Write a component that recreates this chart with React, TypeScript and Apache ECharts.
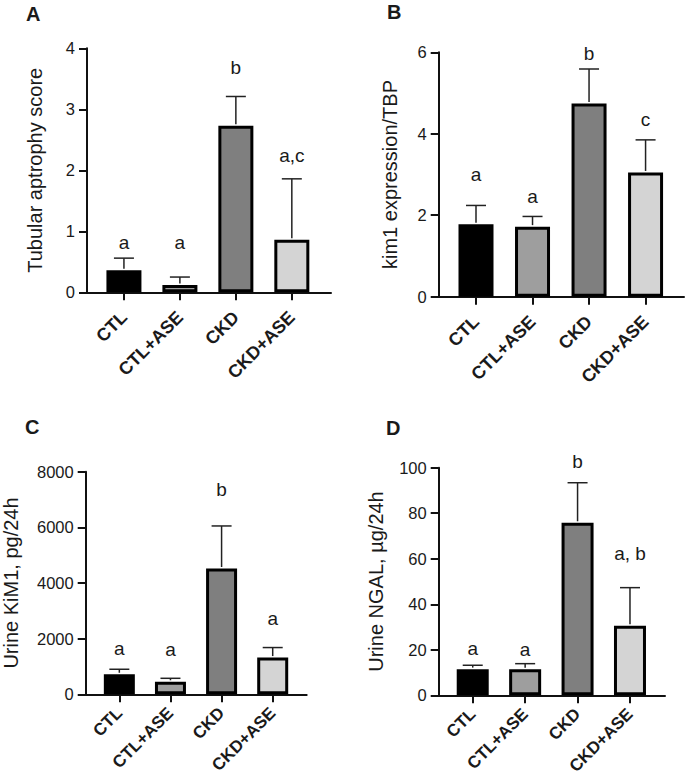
import React, { useEffect, useRef } from "react";
import * as echarts from "echarts";

const categories = ["CTL", "CTL+ASE", "CKD", "CKD+ASE"];
const barColors = ["#000000", "#9e9e9e", "#7f7f7f", "#d4d4d4"];

// Panel A
const tubularMean = [0.36, 0.12, 2.73, 0.86];
const tubularSem = [0.2, 0.13, 0.48, 1.0];
const tubularLetters = ["a", "a", "b", "a,c"];
const tubularLetterY = [0.82, 0.82, 3.69, 2.24];

// Panel B
const kim1Mean = [1.78, 1.72, 4.74, 3.05];
const kim1Sem = [0.46, 0.25, 0.85, 0.8];
const kim1Letters = ["a", "a", "b", "c"];
const kim1LetterY = [3.0, 2.47, 5.97, 4.35];

// Panel C
const urineKimMean = [720, 450, 4520, 1320];
const urineKimSem = [180, 125, 1530, 360];
const urineKimLetters = ["a", "a", "b", "a"];
const urineKimLetterY = [1640, 1600, 7350, 2710];

// Panel D
const ngalMean = [11.5, 11.5, 75.8, 30.6];
const ngalSem = [1.7, 2.4, 17.6, 16.7];
const ngalLetters = ["a", "a", "b", "a, b"];
const ngalLetterY = [20.4, 20.1, 102.8, 62.2];

const FONT = "'Liberation Sans', Arial, Helvetica, sans-serif";
const TXT = "#1a1a1a";

type Panel = {
  label: string;
  lx: number;
  ly: number;
  grid: { left: number; top: number; width: number; height: number };
  xmin: number;
  xmax: number;
  ymax: number;
  interval: number;
  title: string;
  nameGap: number;
  mean: number[];
  sem: number[];
  letters: string[];
  letterY: number[];
  barWidth: number;
  catMargin: number;
  catSize: number;
};

const panels: Panel[] = [
  {
    label: "A", lx: 26, ly: 4,
    grid: { left: 87, top: 48.3, width: 244, height: 244 },
    xmin: -0.66, xmax: 3.7, ymax: 4, interval: 1,
    title: "Tubular aptrophy score", nameGap: 42,
    mean: tubularMean, sem: tubularSem, letters: tubularLetters, letterY: tubularLetterY,
    barWidth: 35, catMargin: 22, catSize: 18,
  },
  {
    label: "B", lx: 387, ly: 2,
    grid: { left: 438.7, top: 52.3, width: 245.3, height: 244.4 },
    xmin: -0.66, xmax: 3.68, ymax: 6, interval: 2,
    title: "kim1 expression/TBP", nameGap: 39,
    mean: kim1Mean, sem: kim1Sem, letters: kim1Letters, letterY: kim1LetterY,
    barWidth: 35, catMargin: 22, catSize: 18,
  },
  {
    label: "C", lx: 25, ly: 417,
    grid: { left: 85.7, top: 471.7, width: 221, height: 222.6 },
    xmin: -0.658, xmax: 3.665, ymax: 8000, interval: 2000,
    title: "Urine KiM1, pg/24h", nameGap: 65,
    mean: urineKimMean, sem: urineKimSem, letters: urineKimLetters, letterY: urineKimLetterY,
    barWidth: 31, catMargin: 16, catSize: 17,
  },
  {
    label: "D", lx: 386, ly: 418,
    grid: { left: 438.7, top: 467.7, width: 226.3, height: 227.6 },
    xmin: -0.649, xmax: 3.668, ymax: 100, interval: 20,
    title: "Urine NGAL, µg/24h", nameGap: 53,
    mean: ngalMean, sem: ngalSem, letters: ngalLetters, letterY: ngalLetterY,
    barWidth: 32, catMargin: 16, catSize: 17,
  },
];

function buildOption() {
  const grid: any[] = [];
  const xAxis: any[] = [];
  const yAxis: any[] = [];
  const series: any[] = [];
  const graphic: any[] = [];
  const tickIdx = categories.map((_, i) => i);

  panels.forEach((p, k) => {
    grid.push({ ...p.grid, containLabel: false, outerBoundsMode: "none" });
    xAxis.push({
      type: "value",
      gridIndex: k,
      min: p.xmin,
      max: p.xmax,
      splitLine: { show: false },
      axisLine: { show: true, onZero: false, lineStyle: { color: "#111", width: 2 } },
      axisTick: { show: true, customValues: tickIdx, length: 8, lineStyle: { color: "#111", width: 2 } },
      axisLabel: {
        show: true,
        customValues: tickIdx,
        formatter: (v: number) => categories[Math.round(v)] || "",
        rotate: 45,
        margin: p.catMargin,
        fontFamily: FONT,
        fontWeight: "bold",
        fontSize: p.catSize,
        color: TXT,
      },
    });
    yAxis.push({
      type: "value",
      gridIndex: k,
      min: 0,
      max: p.ymax,
      interval: p.interval,
      splitLine: { show: false },
      axisLine: { show: true, onZero: false, lineStyle: { color: "#111", width: 2 } },
      axisTick: { show: true, length: 8, lineStyle: { color: "#111", width: 2 } },
      axisLabel: {
        fontFamily: FONT,
        fontSize: 16.5,
        color: TXT,
        margin: 12,
        formatter: (v: number) => String(v),
      },
      name: p.title,
      nameLocation: "middle",
      nameGap: p.nameGap,
      nameTextStyle: { fontFamily: FONT, fontSize: 20, color: TXT },
    });
    series.push({
      type: "bar",
      xAxisIndex: k,
      yAxisIndex: k,
      barWidth: p.barWidth,
      itemStyle: { borderColor: "#000", borderWidth: 3 },
      data: p.mean.map((v, i) => ({ value: [i, v], itemStyle: { color: barColors[i] } })),
      z: 2,
    });
    series.push({
      type: "custom",
      xAxisIndex: k,
      yAxisIndex: k,
      z: 3,
      data: p.mean.map((v, i) => [i, v, p.sem[i]]),
      renderItem: (params: any, api: any) => {
        const i = api.value(0);
        const m = api.value(1);
        const e = api.value(2);
        const p0 = api.coord([i, m]);
        const p1 = api.coord([i, m + e]);
        const hw = 10;
        const st = { stroke: "#222", lineWidth: 1.5 };
        return {
          type: "group",
          children: [
            { type: "line", shape: { x1: p0[0], y1: p0[1] - 1.5, x2: p1[0], y2: p1[1] }, style: st },
            { type: "line", shape: { x1: p1[0] - hw, y1: p1[1], x2: p1[0] + hw, y2: p1[1] }, style: st },
          ],
        };
      },
    });
    series.push({
      type: "custom",
      xAxisIndex: k,
      yAxisIndex: k,
      z: 4,
      data: p.letterY.map((y, i) => [i, y]),
      renderItem: (params: any, api: any) => {
        const pt = api.coord([api.value(0), api.value(1)]);
        return {
          type: "text",
          x: pt[0],
          y: pt[1],
          style: {
            text: p.letters[params.dataIndex],
            fill: TXT,
            fontFamily: FONT,
            fontSize: 19,
            align: "center",
            verticalAlign: "middle",
          },
        };
      },
    });
    graphic.push({
      type: "text",
      x: p.lx,
      y: p.ly,
      style: {
        text: p.label,
        fill: TXT,
        fontFamily: FONT,
        fontWeight: "bold",
        fontSize: 20,
        verticalAlign: "top",
        align: "left",
      },
    });
  });

  return {
    animation: false,
    backgroundColor: "#ffffff",
    grid,
    xAxis,
    yAxis,
    series,
    graphic,
  };
}

export default function App() {
  const ref = useRef<HTMLDivElement>(null);
  useEffect(() => {
    if (!ref.current) return;
    const chart = echarts.init(ref.current, undefined, { renderer: "svg" });
    chart.setOption(buildOption() as any);
    return () => chart.dispose();
  }, []);
  return (
    <div
      ref={ref}
      style={{ position: "fixed", left: 0, top: 0, width: 685, height: 777, background: "#fff" }}
    />
  );
}
